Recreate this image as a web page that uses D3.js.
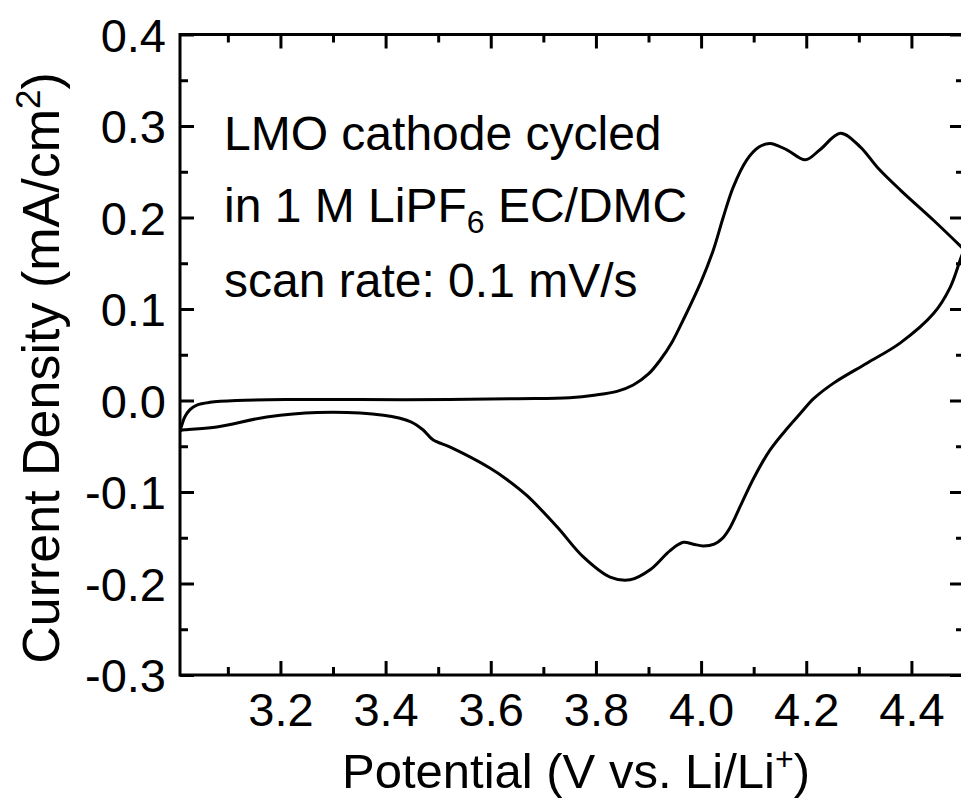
<!DOCTYPE html>
<html>
<head>
<meta charset="utf-8">
<script src="https://cdnjs.cloudflare.com/ajax/libs/d3/7.8.5/d3.min.js"></script>
<style>
  body { margin: 0; background: #fff; }
  svg { display: block; font-family: "Liberation Sans", Arial, sans-serif; }
  .axis path { display: none; }
  .axis line { stroke: #000; stroke-width: 3; }
  .axis text { font-size: 47px; fill: #000; }
</style>
</head>
<body>
<svg id="chart" width="961" height="799"></svg>
<script>
// forward (anodic) scan, 3.0 -> 4.5 V
var anodicV = [3.009, 3.013, 3.018, 3.028, 3.041, 3.066, 3.117, 3.218, 3.35, 3.52, 3.65, 3.75, 3.80, 3.84, 3.871, 3.90, 3.922, 3.945, 3.966, 4.000, 4.023, 4.042, 4.061, 4.087, 4.11, 4.131, 4.163, 4.198, 4.226, 4.265, 4.303, 4.335, 4.379, 4.442, 4.50];
var anodicI = [-0.033, -0.026, -0.018, -0.010, -0.005, -0.002, 0.000, 0.001, 0.001, 0.001, 0.002, 0.003, 0.006, 0.010, 0.017, 0.029, 0.044, 0.064, 0.088, 0.130, 0.164, 0.200, 0.233, 0.263, 0.277, 0.281, 0.274, 0.263, 0.274, 0.292, 0.277, 0.255, 0.230, 0.197, 0.165];

// reverse (cathodic) scan, 4.5 -> 3.0 V
var cathodicV = [4.50, 4.493, 4.474, 4.442, 4.379, 4.316, 4.252, 4.214, 4.189, 4.160, 4.130, 4.100, 4.075, 4.055, 4.040, 4.025, 4.004, 3.985, 3.966, 3.941, 3.903, 3.865, 3.827, 3.776, 3.726, 3.669, 3.63, 3.599, 3.523, 3.490, 3.471, 3.447, 3.396, 3.270, 3.174, 3.079, 3.018, 3.009];
var cathodicI = [0.165, 0.154, 0.124, 0.095, 0.063, 0.041, 0.019, 0.002, -0.014, -0.033, -0.055, -0.085, -0.115, -0.139, -0.151, -0.157, -0.159, -0.157, -0.155, -0.164, -0.185, -0.196, -0.193, -0.171, -0.138, -0.104, -0.086, -0.074, -0.051, -0.043, -0.032, -0.023, -0.016, -0.013, -0.018, -0.029, -0.032, -0.033];

var xMajor = [3.2, 3.4, 3.6, 3.8, 4.0, 4.2, 4.4];
var xMinor = [3.1, 3.3, 3.5, 3.7, 3.9, 4.1, 4.3, 4.5];
var yMajor = [-0.3, -0.2, -0.1, 0.0, 0.1, 0.2, 0.3, 0.4];
var yMinor = [-0.25, -0.15, -0.05, 0.05, 0.15, 0.25, 0.35];

var notes = ["LMO cathode cycled", "in 1 M LiPF", "scan rate: 0.1 mV/s"];

var svg = d3.select("#chart");
var margin = {left: 180, top: 34.5, right: -3, bottom: 124};
var width = 961 - margin.left - margin.right,
    height = 799 - margin.top - margin.bottom;

var x = d3.scaleLinear().domain([3.009, 4.5]).range([0, width]);
var y = d3.scaleLinear().domain([-0.3, 0.4]).range([height, 0]);

var g = svg.append("g")
    .attr("transform", "translate(" + margin.left + "," + margin.top + ")");

g.append("clipPath").attr("id", "clip")
  .append("rect").attr("width", width).attr("height", height);

// inward ticks on all four sides
function ticks(axis, vals, size, fmt) {
    return axis.tickValues(vals).tickSizeInner(-size).tickSizeOuter(0).tickPadding(14).tickFormat(fmt);
}
var none = function() { return ""; };
// plain hyphen for negatives, like the original
var fx = d3.formatLocale({decimal: ".", thousands: ",", grouping: [3], currency: ["", ""], minus: "-"}).format(".1f");

g.append("g").attr("class", "axis").attr("transform", "translate(0," + height + ")")
    .call(ticks(d3.axisBottom(x), xMajor, 14, fx))
    .selectAll("text").attr("dy", "0.78em");
g.append("g").attr("class", "axis").attr("transform", "translate(0," + height + ")")
    .call(ticks(d3.axisBottom(x), xMinor, 8, none));
g.append("g").attr("class", "axis")
    .call(ticks(d3.axisTop(x), xMajor, 14, none));
g.append("g").attr("class", "axis")
    .call(ticks(d3.axisTop(x), xMinor, 8, none));

g.append("g").attr("class", "axis")
    .call(ticks(d3.axisLeft(y), yMajor, 14, fx))
    .selectAll("text").attr("dy", "0.36em");
g.append("g").attr("class", "axis")
    .call(ticks(d3.axisLeft(y), yMinor, 8, none));
g.append("g").attr("class", "axis").attr("transform", "translate(" + width + ",0)")
    .call(ticks(d3.axisRight(y), yMajor, 14, none));
g.append("g").attr("class", "axis").attr("transform", "translate(" + width + ",0)")
    .call(ticks(d3.axisRight(y), yMinor, 8, none));

// frame
g.append("rect")
    .attr("width", width).attr("height", height)
    .attr("fill", "none").attr("stroke", "#000").attr("stroke-width", 3);

// CV curve
var line = d3.line()
    .x(function(d) { return x(d[0]); })
    .y(function(d) { return y(d[1]); })
    .curve(d3.curveCatmullRom.alpha(0.5));

var scans = [d3.zip(anodicV, anodicI), d3.zip(cathodicV, cathodicI)];
g.selectAll(".scan").data(scans).enter()
    .append("path")
    .attr("class", "scan")
    .attr("clip-path", "url(#clip)")
    .attr("d", line)
    .attr("fill", "none")
    .attr("stroke", "#000")
    .attr("stroke-width", 3)
    .attr("stroke-linejoin", "round");

// annotation
var note = svg.append("g").style("font-size", "48px");
note.append("text").attr("x", 224).attr("y", 150).text(notes[0]);
var l2 = note.append("text").attr("x", 224).attr("y", 222).text(notes[1]);
l2.append("tspan").attr("dy", 11).style("font-size", "32px").text("6");
l2.append("tspan").attr("dy", -11).text(" EC/DMC");
note.append("text").attr("x", 224).attr("y", 297).text(notes[2]);

// axis titles
var xt = svg.append("text")
    .attr("x", margin.left + width / 2 + 4).attr("y", 788)
    .attr("text-anchor", "middle").style("font-size", "49px")
    .text("Potential (V vs. Li/Li");
xt.append("tspan").attr("dy", -18).style("font-size", "32px").text("+");
xt.append("tspan").attr("dy", 18).text(")");

var yt = svg.append("text")
    .attr("transform", "translate(59,368)rotate(-90)")
    .attr("text-anchor", "middle").style("font-size", "52px")
    .text("Current Density (mA/cm");
yt.append("tspan").attr("dy", -19).style("font-size", "35px").text("2");
yt.append("tspan").attr("dy", 19).text(")");
</script>
</body>
</html>
